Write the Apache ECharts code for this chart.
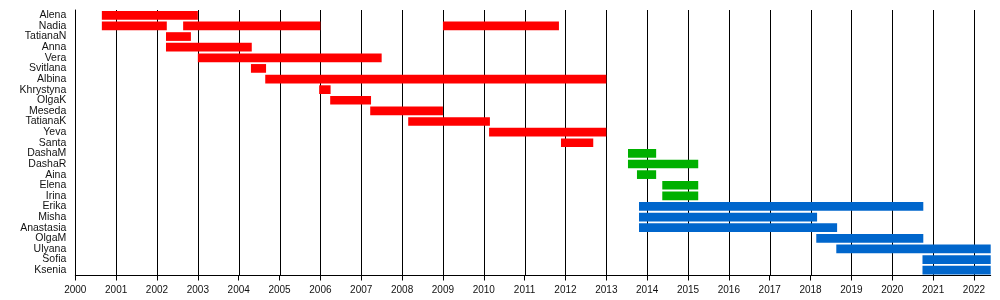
<!DOCTYPE html>
<html>
<head>
<meta charset="utf-8">
<script src="https://cdn.jsdelivr.net/npm/echarts@6/dist/echarts.min.js"></script>
<style>
html,body{margin:0;padding:0;background:#fff;}
#chart{width:1000px;height:300px;}
</style>
</head>
<body>
<div id="chart"></div>
<script>
const people = ['Alena','Nadia','TatianaN','Anna','Vera','Svitlana','Albina','Khrystyna','OlgaK','Meseda','TatianaK','Yeva','Santa','DashaM','DashaR','Aina','Elena','Irina','Erika','Misha','Anastasia','OlgaM','Ulyana','Sofia','Ksenia'];
const yearTicks = [2000,2001,2002,2003,2004,2005,2006,2007,2008,2009,2010,2011,2012,2013,2014,2015,2016,2017,2018,2019,2020,2021,2022];
const axisStart = 2000;
const axisEnd = 2022.41;

const redSpans = [
  ['Alena', 2000.65, 2003.0],
  ['Nadia', 2000.65, 2002.24],
  ['Nadia', 2002.64, 2006.0],
  ['Nadia', 2009.0, 2011.84],
  ['TatianaN', 2002.22, 2002.83],
  ['Anna', 2002.22, 2004.32],
  ['Vera', 2003.0, 2007.5],
  ['Svitlana', 2004.3, 2004.67],
  ['Albina', 2004.65, 2013.0],
  ['Khrystyna', 2005.97, 2006.25],
  ['OlgaK', 2006.24, 2007.24],
  ['Meseda', 2007.22, 2009.0],
  ['TatianaK', 2008.15, 2010.15],
  ['Yeva', 2010.13, 2013.0],
  ['Santa', 2011.89, 2012.68]
];
const greenSpans = [
  ['DashaM', 2013.53, 2014.22],
  ['DashaR', 2013.53, 2015.25],
  ['Aina', 2013.75, 2014.22],
  ['Elena', 2014.37, 2015.25],
  ['Irina', 2014.37, 2015.25]
];
const blueSpans = [
  ['Erika', 2013.8, 2020.76],
  ['Misha', 2013.8, 2018.16],
  ['Anastasia', 2013.8, 2018.65],
  ['OlgaM', 2018.14, 2020.76],
  ['Ulyana', 2018.63, 2022.41],
  ['Sofia', 2020.74, 2022.41],
  ['Ksenia', 2020.74, 2022.41]
];

function renderSpan(params, api) {
  const row = api.value(0);
  const p0 = api.coord([api.value(1), row]);
  const p1 = api.coord([api.value(2), row]);
  const h = api.size([0, 1])[1] * 0.82;
  return {
    type: 'rect',
    shape: { x: p0[0], y: p0[1] - h / 2, width: p1[0] - p0[0], height: h },
    style: { fill: api.visual('color') }
  };
}

function renderGridLine(params, api) {
  const x = Math.round(api.coord([api.value(0), 0])[0]) + 0.5;
  const cs = params.coordSys;
  return {
    type: 'line',
    shape: { x1: x, y1: cs.y, x2: x, y2: cs.y + cs.height },
    style: { stroke: '#000', lineWidth: 1 }
  };
}

function spanSeries(spans, color) {
  return {
    type: 'custom',
    renderItem: renderSpan,
    itemStyle: { color: color },
    encode: { x: [1, 2], y: 0 },
    data: spans.map(s => [people.indexOf(s[0]), s[1], s[2]]),
    silent: true,
    z: 3,
    animation: false
  };
}

const chart = echarts.init(document.getElementById('chart'), null, { renderer: 'canvas' });
chart.setOption({
  animation: false,
  backgroundColor: '#fff',
  grid: { left: 75.3, right: 9.3, top: 10, bottom: 24.5, containLabel: false },
  xAxis: {
    type: 'value',
    min: axisStart,
    max: axisEnd,
    interval: 1,
    axisLine: { show: true, lineStyle: { color: '#000', width: 1 } },
    axisTick: { show: true, length: 5, customValues: yearTicks, lineStyle: { color: '#000' } },
    axisLabel: {
      color: '#111', fontSize: 10, fontFamily: 'Liberation Sans, Arial, sans-serif',
      margin: 10, customValues: yearTicks,
      formatter: v => String(v)
    },
    splitLine: { show: false }
  },
  yAxis: {
    type: 'category',
    data: people,
    inverse: true,
    axisLine: { show: true, lineStyle: { color: '#000', width: 1 } },
    axisTick: { show: false },
    axisLabel: {
      color: '#111', fontSize: 10.5, fontFamily: 'Liberation Sans, Arial, sans-serif',
      margin: 9, interval: 0
    },
    splitLine: { show: false }
  },
  series: [
    {
      type: 'custom',
      renderItem: renderGridLine,
      encode: { x: 0 },
      data: yearTicks.slice(1).map(y => [y]),
      silent: true,
      z: 1,
      animation: false
    },
    spanSeries(redSpans, '#ff0000'),
    spanSeries(greenSpans, '#00b000'),
    spanSeries(blueSpans, '#0066cc')
  ]
});
</script>
</body>
</html>
